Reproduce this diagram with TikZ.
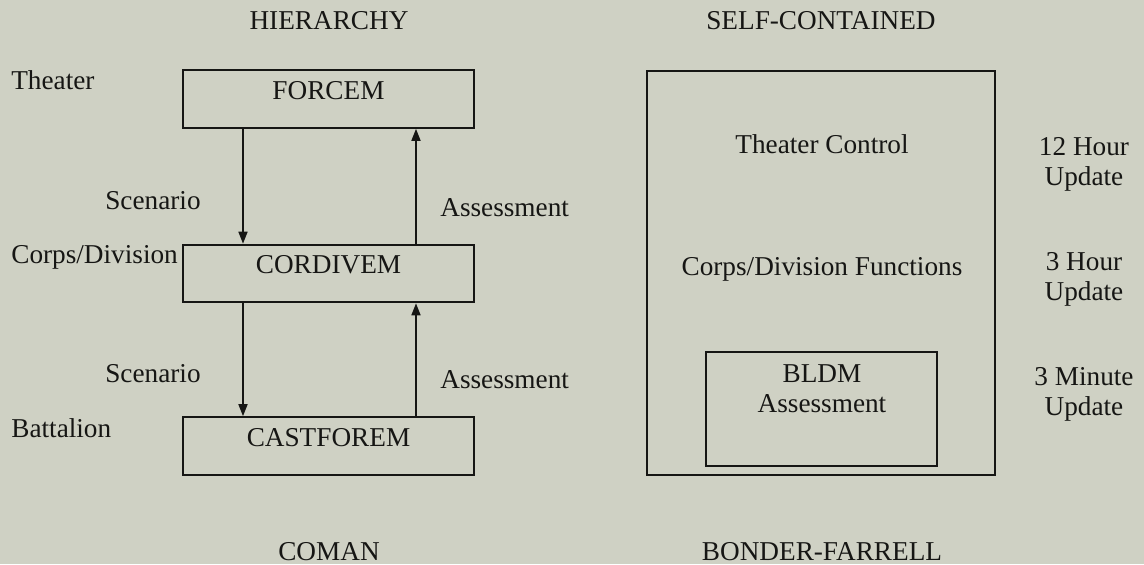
\documentclass[tikz,border=0pt]{standalone}
\usepackage{fontspec}
\setmainfont{Liberation Serif}
\usetikzlibrary{arrows.meta}
\definecolor{paper}{RGB}{207,209,196}
\definecolor{ink}{RGB}{22,22,20}

\begin{document}
\begin{tikzpicture}[
    every node/.style={align=center, inner sep=0pt, text=ink,
        font=\fontsize{15.5}{17}\selectfont},
    model box/.style={draw=ink, line width=1.2pt, minimum width=5.82cm,
        minimum height=1.15cm, text height=0.4cm, text depth=0.4cm},
    frame box/.style={draw=ink, line width=1.2pt},
    flow/.style={draw=ink, line width=0.9pt, -{Triangle[width=0.18cm,length=0.24cm]}},
    ]
\useasboundingbox[fill=paper] (0,0) rectangle (22.88,-11.28);
% hierarchy side
\node[anchor=base] (hier) at (6.58,-0.58) {HIERARCHY};
\node[model box] (forcem) at (6.57,-1.98) {FORCEM};
\node[model box] (cordivem) at (6.57,-5.47) {CORDIVEM};
\node[model box] (castforem) at (6.57,-8.92) {CASTFOREM};
\node[anchor=base west] (theater) at (0.22,-1.78) {Theater};
\node[anchor=base west] (corps) at (0.22,-5.26) {Corps/Division};
\node[anchor=base west] (battalion) at (0.22,-8.74) {Battalion};
\node[anchor=base] (scenA) at (3.06,-4.18) {Scenario};
\node[anchor=base] (scenB) at (3.06,-7.64) {Scenario};
\node[anchor=base west] (assessA) at (8.80,-4.32) {Assessment};
\node[anchor=base west] (assessB) at (8.80,-7.76) {Assessment};
\draw[flow] ([xshift=-1.71cm]forcem.south) -- ([xshift=-1.71cm]cordivem.north);
\draw[flow] ([xshift=1.75cm]cordivem.north) -- ([xshift=1.75cm]forcem.south);
\draw[flow] ([xshift=-1.71cm]cordivem.south) -- ([xshift=-1.71cm]castforem.north);
\draw[flow] ([xshift=1.75cm]castforem.north) -- ([xshift=1.75cm]cordivem.south);
\node[anchor=base] (coman) at (6.58,-11.20) {COMAN};
% self-contained side
\node[anchor=base] (selfc) at (16.42,-0.58) {SELF-CONTAINED};
\node[frame box, minimum width=6.96cm, minimum height=8.08cm] (outer) at (16.42,-5.46) {};
\node[anchor=base] (thctl) at (16.44,-3.06) {Theater Control};
\node[anchor=base] (corpsfn) at (16.44,-5.50) {Corps/Division Functions};
\node[frame box, minimum width=4.62cm, minimum height=2.28cm] (bldm) at (16.43,-8.18) {};
\node[anchor=base] (bldmtxt) at (16.44,-8.24) {BLDM\\Assessment};
\node[anchor=base] (updA) at (21.68,-3.70) {12 Hour\\Update};
\node[anchor=base] (updB) at (21.68,-6.00) {3 Hour\\Update};
\node[anchor=base] (updC) at (21.68,-8.30) {3 Minute\\Update};
\node[anchor=base] (bonder) at (16.44,-11.20) {BONDER-FARRELL};
\end{tikzpicture}
\end{document}
